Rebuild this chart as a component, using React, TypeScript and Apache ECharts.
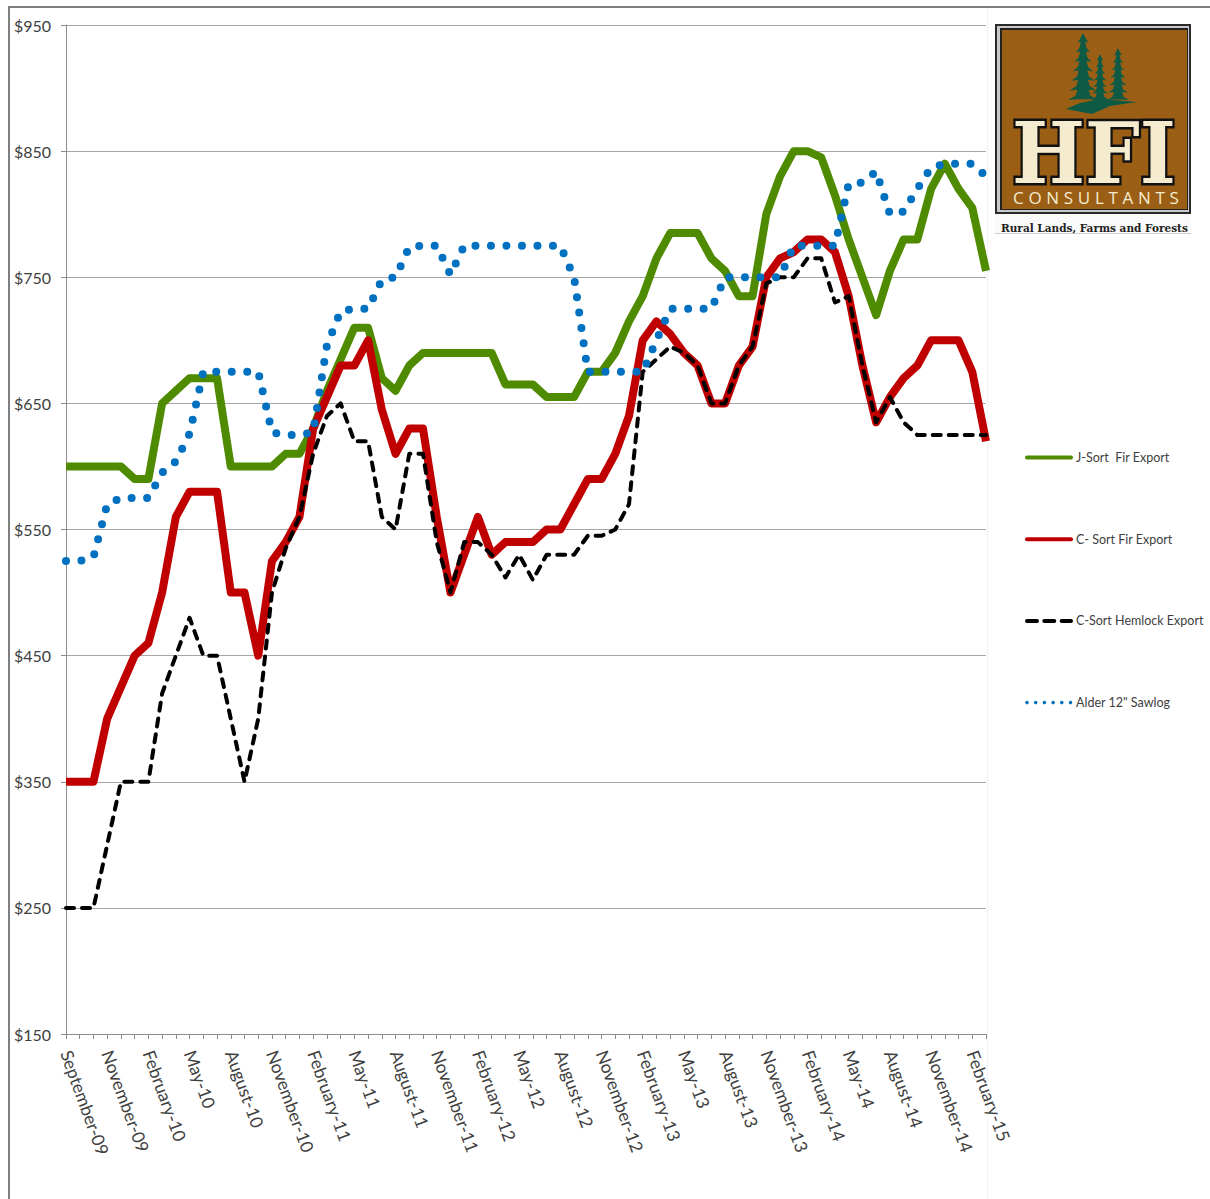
import React, { useEffect, useRef } from "react";
import * as echarts from "echarts";

const tickLabels = [
  "September-09", "November-09", "February-10", "May-10", "August-10", "November-10",
  "February-11", "May-11", "August-11", "November-11", "February-12", "May-12",
  "August-12", "November-12", "February-13", "May-13", "August-13", "November-13",
  "February-14", "May-14", "August-14", "November-14", "February-15",
];
const categories = tickLabels.flatMap((l) => [l, "", ""]).slice(0, 68);
const yTicks = [150, 250, 350, 450, 550, 650, 750, 850, 950];

const jSortFir = [
  600, 600, 600, 600, 600, 590, 590, 650, 660, 670, 670, 670, 600, 600, 600, 600, 610,
  610, 630, 660, 685, 710, 710, 670, 660, 680, 690, 690, 690, 690, 690, 690, 665, 665,
  665, 655, 655, 655, 675, 675, 690, 715, 735, 765, 785, 785, 785, 765, 755, 735, 735,
  800, 830, 850, 850, 845, 815, 780, 750, 720, 755, 780, 780, 820, 840, 820, 805, 755,
];
const cSortFir = [
  350, 350, 350, 400, 425, 450, 460, 500, 560, 580, 580, 580, 500, 500, 450, 525, 540,
  560, 630, 655, 680, 680, 700, 645, 610, 630, 630, 560, 500, 530, 560, 530, 540, 540,
  540, 550, 550, 570, 590, 590, 610, 640, 700, 715, 705, 690, 680, 650, 650, 680, 695,
  750, 765, 770, 780, 780, 770, 735, 680, 635, 655, 670, 680, 700, 700, 700, 675, 620,
];
const cSortHemlock = [
  250, 250, 250, 300, 350, 350, 350, 420, 450, 480, 450, 450, 400, 350, 400, 500, 535,
  560, 610, 640, 650, 620, 620, 560, 550, 610, 610, 540, 500, 540, 540, 530, 512, 530,
  510, 530, 530, 530, 545, 545, 550, 570, 675, 685, 695, 690, 680, 650, 650, 680, 695,
  745, 750, 750, 765, 765, 730, 735, 680, 635, 655, 635, 625, 625, 625, 625, 625, 625,
];
const alderSawlog = [
  525, 525, 528, 570, 575, 575, 575, 595, 604, 626, 675, 675, 675, 675, 675, 627, 625,
  625, 627, 696, 723, 725, 725, 748, 750, 774, 775, 775, 752, 775, 775, 775, 775, 775,
  775, 775, 775, 750, 675, 675, 675, 675, 675, 700, 725, 725, 725, 725, 750, 750, 750,
  750, 750, 775, 775, 775, 775, 824, 825, 834, 800, 802, 820, 837, 840, 840, 840, 830,
];

const seriesNames = ["J-Sort  Fir Export", "C- Sort Fir Export", "C-Sort Hemlock Export", 'Alder 12" Sawlog'];

const GREEN = "#4f8b00";
const RED = "#c00000";
const BLUE = "#0070c0";
const GREY = "#a6a6a6";
const AXIS = "#8c8c8c";
const TEXT = "#404040";

function tree(cx: number, top: number, bottom: number, hw: number) {
  const tiers = 7;
  const left: number[][] = [];
  const right: number[][] = [];
  const h = (bottom - top) / tiers;
  for (let i = 1; i <= tiers; i++) {
    const w = hw * (0.25 + (0.75 * i) / tiers);
    const y = top + h * i;
    right.push([cx + w * 0.5, y - h * 0.45], [cx + w, y], [cx + w * 0.42, y - h * 0.08]);
    left.unshift([cx - w * 0.42, y - h * 0.08], [cx - w, y], [cx - w * 0.5, y - h * 0.45]);
  }
  return [[cx, top], ...right, ...left];
}

function logo() {
  const treeFill = "#0f5a45";
  const cream = "#f5ebcf";
  return [
    { type: "rect", shape: { x: 995, y: 24, width: 196, height: 190 }, style: { fill: "#2a2a2a" } },
    { type: "rect", shape: { x: 997, y: 26, width: 192, height: 186 }, style: { fill: "#c9c9c9" } },
    { type: "rect", shape: { x: 1000, y: 28, width: 188, height: 182 }, style: { fill: "#222" } },
    { type: "rect", shape: { x: 1002, y: 30, width: 185, height: 179 }, style: { fill: "#9a5f14" } },
    { type: "polygon", shape: { points: tree(1083, 33, 100, 15) }, style: { fill: treeFill } },
    { type: "polygon", shape: { points: tree(1100, 54, 100, 9) }, style: { fill: treeFill } },
    { type: "polygon", shape: { points: tree(1118, 48, 100, 11) }, style: { fill: treeFill } },
    {
      type: "polygon",
      shape: { points: [[1066, 109], [1080, 103], [1100, 99], [1137, 102], [1110, 106], [1092, 114]] },
      style: { fill: treeFill },
    },
    {
      type: "text", x: 1012, y: 153, scaleX: 0.92,
      style: {
        text: "HFI", fill: cream, stroke: "#111", lineWidth: 5,
        font: 'bold 84px "DejaVu Serif"', textAlign: "left", textVerticalAlign: "middle",
      },
    },
    {
      type: "text", x: 1013, y: 197,
      style: {
        text: "CONSULTANTS", fill: cream, font: '17px "Open Sans"',
        textAlign: "left", textVerticalAlign: "middle",
      },
    },
    { type: "rect", shape: { x: 995, y: 214, width: 196, height: 20 }, style: { fill: "#fafafa" } },
    { type: "line", shape: { x1: 995, y1: 233.5, x2: 1191, y2: 233.5 }, style: { stroke: "#cfcfcf", lineWidth: 1 } },
    {
      type: "text", x: 1001, y: 228,
      style: {
        text: "Rural Lands, Farms and Forests", fill: "#222", font: 'bold 10.5px "DejaVu Serif"',
        textAlign: "left", textVerticalAlign: "middle",
      },
    },
  ];
}

export default function App() {
  const ref = useRef<HTMLDivElement>(null);
  useEffect(() => {
    const styleEl = document.createElement("style");
    styleEl.textContent =
      '#root text[style*="Open Sans"]{letter-spacing:4.7px}#root text[style*="84px"]{paint-order:stroke}';
    document.head.appendChild(styleEl);
    const chart = echarts.init(ref.current!, null, { renderer: "svg" });
    const lineBase = { type: "line", symbol: "none", showSymbol: false, silent: true };
    const noMark = { opacity: 0, color: "transparent", borderWidth: 0 };
    chart.setOption({
      animation: false,
      backgroundColor: "#ffffff",
      grid: { left: 66, right: 224, top: 25, bottom: 165, containLabel: false },
      legend: {
        orient: "vertical",
        left: 1020,
        top: 446,
        itemWidth: 44,
        itemHeight: 14,
        itemGap: 68.7,
        selectedMode: false,
        textStyle: { color: TEXT, fontFamily: "Lato", fontSize: 12.5 },
        data: [
          { name: seriesNames[0], itemStyle: noMark, lineStyle: { width: 4, cap: "round" } },
          { name: seriesNames[1], itemStyle: noMark, lineStyle: { width: 4, cap: "round" } },
          { name: seriesNames[2], itemStyle: noMark, lineStyle: { width: 4, type: [10, 7.3], cap: "round" } },
          { name: seriesNames[3], itemStyle: noMark, lineStyle: { width: 3.6, type: [0, 8.7], cap: "round" } },
        ],
      },
      xAxis: {
        type: "category",
        boundaryGap: false,
        data: categories,
        axisLine: { lineStyle: { color: AXIS, width: 1 } },
        axisTick: { interval: 0, length: 5, lineStyle: { color: AXIS } },
        axisLabel: {
          interval: 2,
          rotate: -70,
          margin: 17,
          hideOverlap: false,
          color: TEXT,
          fontFamily: "Lato",
          fontSize: 17.5,
        },
        splitLine: { show: false },
      },
      yAxis: {
        type: "value",
        min: 150,
        max: 950,
        axisLine: { show: true, lineStyle: { color: AXIS, width: 1 } },
        axisTick: { show: true, length: 5, customValues: yTicks, lineStyle: { color: AXIS } },
        axisLabel: {
          customValues: yTicks,
          margin: 15,
          color: TEXT,
          fontFamily: "Lato",
          fontSize: 16,
          formatter: (v: number) => `$${v}`,
        },
        splitLine: { show: true, lineStyle: { color: GREY, width: 1 } },
      },
      series: [
        { ...lineBase, name: seriesNames[0], data: jSortFir, z: 2, color: GREEN, lineStyle: { color: GREEN, width: 8, join: "round", cap: "butt" } },
        { ...lineBase, name: seriesNames[1], data: cSortFir, z: 3, color: RED, lineStyle: { color: RED, width: 8, join: "round", cap: "butt" } },
        { ...lineBase, name: seriesNames[2], data: cSortHemlock, z: 4, color: "#000", lineStyle: { color: "#000", width: 4, type: [8, 8], cap: "round", join: "round" } },
        { ...lineBase, name: seriesNames[3], data: alderSawlog, z: 5, color: BLUE, lineStyle: { color: BLUE, width: 8, type: [0, 15.5], cap: "round", join: "round" } },
      ],
      graphic: [
        { type: "line", silent: true, shape: { x1: 9, y1: 7, x2: 9, y2: 1199 }, style: { stroke: "#7f7f7f", lineWidth: 2 } },
        { type: "line", silent: true, shape: { x1: 8, y1: 7, x2: 1210, y2: 7 }, style: { stroke: "#7f7f7f", lineWidth: 2 } },
        { type: "line", silent: true, shape: { x1: 987.5, y1: 8, x2: 987.5, y2: 1199 }, style: { stroke: "#f2f2f2", lineWidth: 1 } },
        ...logo(),
      ],
    });
    return () => {
      chart.dispose();
      styleEl.remove();
    };
  }, []);
  return <div ref={ref} style={{ position: "absolute", left: 0, top: 0, width: 1210, height: 1199 }} />;
}
